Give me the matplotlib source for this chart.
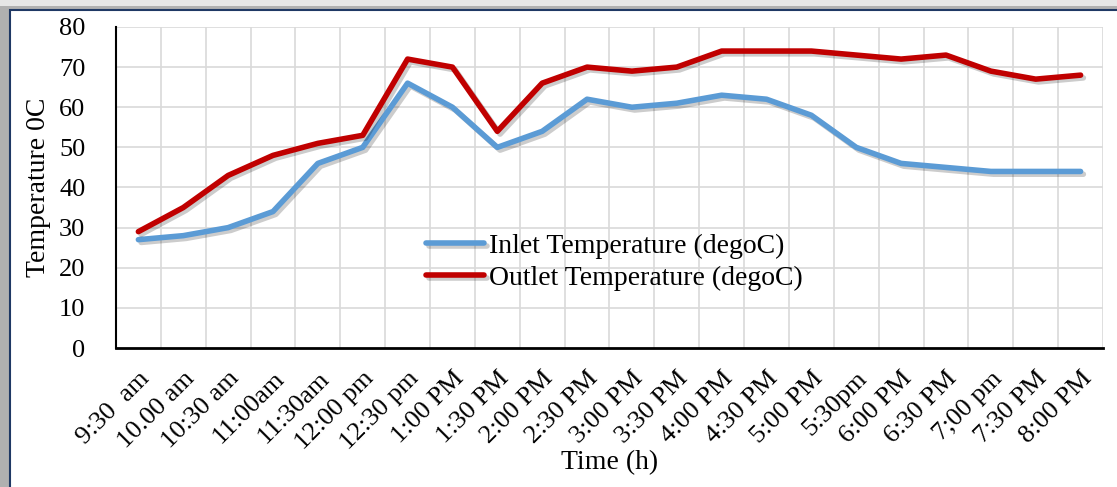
import matplotlib.pyplot as plt
import matplotlib.patheffects as pe
from matplotlib.patches import Rectangle

plt.rcParams['font.family'] = ['Liberation Serif', 'DejaVu Serif']

times = ["9:30  am", "10.00 am", "10:30 am", "11:00am", "11:30am", "12:00 pm",
         "12:30 pm", "1:00 PM", "1:30 PM", "2:00 PM", "2:30 PM", "3:00 PM",
         "3:30 PM", "4:00 PM", "4:30 PM", "5:00 PM", "5:30pm", "6:00 PM",
         "6:30 PM", "7;00 pm", "7:30 PM", "8:00 PM"]
inlet = [27, 28, 30, 34, 46, 50, 66, 60, 50, 54, 62, 60, 61, 63, 62, 58,
         50, 46, 45, 44, 44, 44]
outlet = [29, 35, 43, 48, 51, 53, 72, 70, 54, 66, 70, 69, 70, 74, 74, 74,
          73, 72, 73, 69, 67, 68]

fig = plt.figure(figsize=(11.17, 4.87), dpi=100)
fig.patch.set_facecolor('#e6e6e6')

# frame with shadow
fig.patches.append(Rectangle((0.0, 0.0), 1.0, 0.988, transform=fig.transFigure,
                             facecolor='#b0b0b0', edgecolor='none', zorder=-2))
fig.patches.append(Rectangle((0.0092, -0.05), 1.0, 1.0295, transform=fig.transFigure,
                             facecolor='white', edgecolor='#1f3864', lw=1.5, zorder=-1))

ax = fig.add_axes([0.1038, 0.2854, 0.8837, 0.6592])
ax.set_facecolor('white')
x = list(range(len(times)))

shadow = [pe.SimpleLineShadow(offset=(2, -2), shadow_color='black', alpha=0.2), pe.Normal()]
ax.plot(x, inlet, color='#5b9bd5', lw=4, solid_capstyle='round',
        solid_joinstyle='round', label='Inlet Temperature (degoC)', path_effects=shadow, zorder=3)
ax.plot(x, outlet, color='#c00000', lw=4, solid_capstyle='round',
        solid_joinstyle='round', label='Outlet Temperature (degoC)', path_effects=shadow, zorder=3)

ax.set_xlim(-0.5, len(times) - 0.5)
ax.set_ylim(0, 80)
ax.set_yticks(range(0, 81, 10))
ax.set_xticks(x)
ax.set_xticklabels(times, rotation=45, ha='right', rotation_mode='anchor', fontsize=19)
ax.tick_params(axis='y', labelsize=19, length=0, pad=22)
ax.tick_params(axis='x', length=0, pad=14)

for v in [i - 0.5 for i in range(len(times) + 1)]:
    ax.axvline(v, color='#d9d9d9', lw=1.2, zorder=1)
for v in range(10, 81, 10):
    ax.axhline(v, color='#d9d9d9', lw=1.2, zorder=1)

for s in ['top', 'right']:
    ax.spines[s].set_visible(False)
ax.spines['left'].set_linewidth(1.5)
ax.spines['bottom'].set_linewidth(2)

ax.set_xlabel('Time (h)', fontsize=20, labelpad=-3)
ax.set_ylabel('Temperature 0C', fontsize=20, labelpad=6)

ax.legend(loc='center left', bbox_to_anchor=(0.30, 0.268), frameon=False, fontsize=20,
          handlelength=2.1, handletextpad=0.18, labelspacing=0.25, borderpad=0)

fig.savefig('out.png', dpi=100, facecolor=fig.get_facecolor())
